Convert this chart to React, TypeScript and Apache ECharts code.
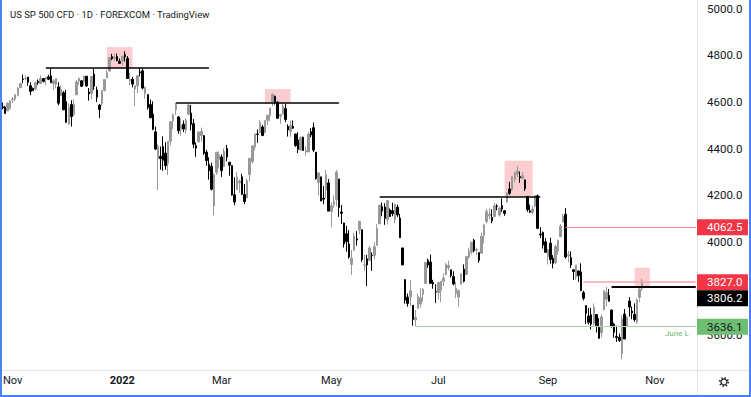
import React, { useEffect, useRef } from 'react';
import * as echarts from 'echarts';

// [day, open, high, low, close]
const oct2021 = [[26,4579,4598,4569,4575],[27,4578,4584,4551,4551],[28,4562,4597,4562,4596],[29,4572,4608,4567,4605]];
const nov2021 = [[1,4610,4621,4595,4613],[2,4613,4635,4604,4631],[3,4630,4664,4624,4660],[4,4662,4683,4659,4680],[5,4699,4718,4681,4697],[8,4701,4714,4694,4701],[9,4707,4708,4670,4685],[10,4670,4685,4630,4646],[11,4659,4662,4648,4649],[12,4656,4688,4650,4683],[15,4689,4697,4674,4683],[16,4679,4714,4679,4701],[17,4701,4701,4684,4689],[18,4700,4708,4672,4705],[19,4708,4717,4694,4698],[22,4712,4744,4682,4683],[23,4679,4699,4652,4691],[24,4675,4702,4659,4701],[26,4665,4685,4586,4595],[29,4628,4672,4626,4655],[30,4640,4647,4565,4567]];
const dec2021 = [[1,4602,4652,4510,4513],[2,4504,4595,4504,4577],[3,4589,4608,4495,4538],[6,4548,4612,4540,4591],[7,4631,4694,4631,4686],[8,4690,4705,4675,4701],[9,4691,4695,4665,4668],[10,4688,4713,4670,4712],[13,4711,4711,4666,4669],[14,4643,4660,4606,4635],[15,4637,4712,4612,4710],[16,4720,4743,4652,4668],[17,4652,4666,4600,4621],[20,4587,4592,4531,4568],[21,4594,4651,4584,4649],[22,4650,4697,4645,4697],[23,4703,4740,4703,4726],[27,4733,4791,4733,4791],[28,4795,4807,4780,4786],[29,4788,4805,4778,4793],[30,4795,4808,4775,4778],[31,4775,4787,4765,4766]];
const jan2022 = [[3,4778,4797,4758,4797],[4,4804,4818,4774,4794],[5,4787,4797,4700,4701],[6,4693,4725,4671,4696],[7,4698,4708,4663,4677],[10,4656,4673,4582,4670],[11,4670,4715,4638,4713],[12,4729,4749,4710,4726],[13,4734,4745,4654,4660],[14,4637,4666,4614,4663],[18,4632,4632,4568,4577],[19,4589,4611,4530,4533],[20,4548,4603,4479,4483],[21,4472,4495,4395,4398],[24,4357,4418,4222,4410],[25,4367,4409,4310,4357],[26,4409,4453,4305,4350],[27,4381,4428,4309,4327],[28,4337,4432,4287,4432],[31,4432,4517,4414,4516]];
const feb2022 = [[1,4519,4551,4484,4546],[2,4567,4595,4544,4589],[3,4536,4540,4464,4477],[4,4483,4531,4456,4501],[7,4505,4521,4471,4484],[8,4480,4531,4465,4522],[9,4548,4592,4547,4587],[10,4553,4588,4478,4504],[11,4507,4527,4402,4419],[14,4413,4427,4365,4402],[15,4429,4473,4429,4472],[16,4456,4490,4430,4475],[17,4456,4456,4373,4380],[18,4385,4395,4327,4349],[22,4332,4363,4267,4305],[23,4324,4340,4221,4226],[24,4155,4294,4114,4288],[25,4299,4385,4287,4385],[28,4354,4388,4315,4374]];
const mar2022 = [[1,4364,4375,4279,4306],[2,4323,4401,4322,4387],[3,4401,4416,4346,4364],[4,4342,4342,4284,4329],[7,4327,4328,4199,4201],[8,4202,4277,4157,4171],[9,4224,4299,4224,4278],[10,4253,4268,4210,4260],[11,4279,4292,4202,4204],[14,4203,4248,4162,4173],[15,4189,4272,4187,4262],[16,4289,4358,4259,4358],[17,4345,4412,4335,4412],[18,4407,4465,4392,4463],[21,4463,4482,4425,4461],[22,4469,4522,4469,4512],[23,4493,4501,4455,4456],[24,4470,4521,4465,4520],[25,4522,4546,4501,4543],[28,4542,4575,4517,4575],[29,4603,4637,4582,4632],[30,4624,4628,4589,4602],[31,4600,4603,4530,4530]];
const apr2022 = [[1,4540,4549,4507,4546],[4,4548,4593,4548,4583],[5,4572,4593,4514,4525],[6,4495,4504,4452,4481],[7,4474,4521,4450,4500],[8,4495,4521,4485,4488],[11,4463,4464,4408,4413],[12,4437,4471,4381,4397],[13,4394,4453,4392,4447],[14,4449,4452,4392,4392],[18,4386,4410,4370,4391],[19,4386,4471,4386,4463],[20,4473,4488,4449,4459],[21,4490,4512,4385,4394],[22,4385,4385,4267,4272],[25,4255,4299,4200,4296],[26,4279,4279,4175,4175],[27,4187,4240,4162,4183],[28,4223,4308,4188,4288],[29,4253,4270,4132,4132]];
const may2022 = [[2,4131,4169,4062,4155],[3,4159,4200,4147,4175],[4,4181,4308,4152,4300],[5,4270,4270,4107,4147],[6,4128,4158,4077,4123],[9,4081,4082,3976,3991],[10,4035,4069,3958,4001],[11,3991,4050,3928,3935],[12,3903,3965,3859,3930],[13,3964,4039,3964,4024],[16,4013,4046,3984,4008],[17,4052,4090,4033,4088],[18,4052,4052,3914,3923],[19,3900,3946,3876,3901],[20,3927,3944,3810,3901],[23,3920,3982,3920,3974],[24,3942,3955,3875,3941],[25,3942,3999,3925,3979],[26,3985,4076,3985,4058],[27,4077,4158,4077,4158],[31,4151,4169,4110,4132]];
const jun2022 = [[1,4149,4166,4073,4101],[2,4096,4177,4075,4177],[3,4137,4143,4107,4109],[6,4134,4168,4110,4121],[7,4096,4164,4080,4161],[8,4148,4160,4107,4116],[9,4102,4120,4017,4018],[10,3974,3974,3900,3901],[13,3838,3838,3735,3750],[14,3763,3778,3722,3735],[15,3764,3837,3722,3790],[16,3728,3728,3640,3667],[17,3665,3707,3637,3675],[21,3715,3779,3715,3765],[22,3733,3801,3717,3760],[23,3775,3802,3743,3796],[24,3821,3913,3821,3912],[27,3920,3928,3889,3901],[28,3913,3945,3820,3822],[29,3826,3837,3799,3819],[30,3786,3818,3738,3785]];
const jul2022 = [[1,3782,3829,3753,3825],[5,3793,3832,3742,3831],[6,3831,3865,3811,3845],[7,3859,3910,3859,3903],[8,3888,3919,3878,3899],[11,3880,3880,3847,3855],[12,3851,3874,3814,3819],[13,3779,3829,3758,3801],[14,3763,3796,3722,3790],[15,3819,3864,3817,3863],[18,3883,3903,3826,3831],[19,3860,3939,3860,3937],[20,3935,3975,3927,3960],[21,3956,3999,3946,3999],[22,4007,4013,3955,3962],[25,3965,3975,3943,3967],[26,3954,3954,3910,3921],[27,3951,4040,3951,4024],[28,4027,4078,3993,4072],[29,4087,4141,4079,4130]];
const aug2022 = [[1,4113,4144,4096,4119],[2,4105,4140,4080,4091],[3,4108,4167,4107,4155],[4,4154,4161,4135,4152],[5,4115,4151,4108,4145],[8,4156,4187,4128,4140],[9,4133,4137,4112,4122],[10,4171,4211,4168,4210],[11,4227,4257,4201,4208],[12,4225,4280,4219,4280],[15,4269,4301,4256,4297],[16,4291,4325,4277,4305],[17,4280,4302,4253,4275],[18,4273,4300,4267,4284],[19,4266,4266,4218,4228],[22,4195,4195,4129,4138],[23,4133,4160,4124,4128],[24,4126,4156,4120,4141],[25,4154,4200,4147,4199],[26,4198,4203,4057,4058],[29,4034,4063,4017,4030],[30,4041,4044,3971,3986],[31,4000,4016,3954,3955]];
const sep2022 = [[1,3937,3970,3903,3967],[2,3994,4018,3906,3924],[6,3930,3943,3886,3908],[7,3910,3987,3906,3980],[8,3959,4010,3945,4006],[9,4022,4076,4022,4067],[12,4084,4119,4084,4110],[13,4118,4145,3928,3935],[14,3940,3961,3912,3946],[15,3932,3959,3888,3901],[16,3880,3880,3837,3873],[19,3849,3900,3838,3900],[20,3875,3877,3828,3856],[21,3871,3908,3789,3790],[22,3782,3790,3749,3758],[23,3727,3727,3648,3693],[26,3682,3716,3645,3655],[27,3687,3717,3624,3647],[28,3651,3736,3641,3719],[29,3688,3688,3611,3640],[30,3633,3672,3584,3586]];
const oct2022 = [[3,3610,3689,3590,3678],[4,3708,3791,3708,3791],[5,3754,3807,3722,3783],[6,3770,3798,3744,3745],[7,3707,3710,3632,3640],[10,3647,3653,3589,3612],[11,3594,3640,3571,3589],[12,3590,3606,3571,3577],[13,3520,3685,3495,3670],[14,3690,3712,3583,3583],[17,3638,3679,3638,3677],[18,3746,3763,3679,3720],[19,3703,3722,3668,3695],[20,3689,3736,3657,3666],[21,3657,3757,3647,3752],[24,3762,3810,3741,3797],[25,3799,3841,3790,3827]];

const monthBlocks: [string, number[][]][] = [
  ['2021-10', oct2021], ['2021-11', nov2021], ['2021-12', dec2021], ['2022-01', jan2022],
  ['2022-02', feb2022], ['2022-03', mar2022], ['2022-04', apr2022], ['2022-05', may2022],
  ['2022-06', jun2022], ['2022-07', jul2022], ['2022-08', aug2022], ['2022-09', sep2022],
  ['2022-10', oct2022],
];

// empty future sessions on the right side of the chart
const futureDates = ['2022-10-26','2022-10-27','2022-10-28','2022-10-31','2022-11-01','2022-11-02','2022-11-03','2022-11-04','2022-11-07','2022-11-08','2022-11-09','2022-11-10','2022-11-11','2022-11-14','2022-11-15','2022-11-16','2022-11-17','2022-11-18','2022-11-21','2022-11-22','2022-11-23'];

const timeLabels: [string, string][] = [
  ['2021-11-01', 'Nov'], ['2022-01-03', '2022'], ['2022-03-01', 'Mar'], ['2022-05-02', 'May'],
  ['2022-07-01', 'Jul'], ['2022-09-01', 'Sep'], ['2022-11-01', 'Nov'],
];

// 3800.0 sits fully under the price tags in the reference
const priceTicks = [3600, 4000, 4200, 4400, 4600, 4800, 5000];

const levelLines = [
  { from: '2021-11-18', to: '2022-02-22', price: 4746 },
  { from: '2022-02-02', to: '2022-05-05', price: 4597 },
  { from: '2022-05-27', to: '2022-08-29', price: 4195 },
];

const highlightBoxes = [
  { from: '2021-12-23', to: '2022-01-07', top: 4836, bottom: 4746 },
  { from: '2022-03-24', to: '2022-04-07', top: 4656, bottom: 4597 },
  { from: '2022-08-09', to: '2022-08-24', top: 4348, bottom: 4197 },
  { from: '2022-10-20', to: '2022-10-28', top: 3889, bottom: 3807 },
];

const rayLines = [
  { from: '2022-09-13', price: 4062.5, color: '#f28b93', width: 1, label: '' },
  { from: '2022-09-22', price: 3827.0, color: '#f5a3aa', width: 1.5, label: '' },
  { from: '2022-10-07', price: 3806.2, color: '#000000', width: 2, label: '' },
  { from: '2022-06-17', price: 3636.1, color: '#a5d6a7', width: 1, label: 'June L' },
];

const priceTags = [
  { price: 4062.5, bg: '#f23645', fg: '#ffffff' },
  { price: 3827.0, bg: '#f23645', fg: '#ffffff' },
  { price: 3806.2, bg: '#000000', fg: '#ffffff' },
  { price: 3636.1, bg: '#6fbf73', fg: '#131722' },
];

const FONT = 'Roboto, "Noto Sans", sans-serif';

export default function App() {
  const ref = useRef<HTMLDivElement>(null);
  useEffect(() => {
    const chart = echarts.init(ref.current!, null, { renderer: 'svg' });
    const dates: string[] = [];
    const ohlc: number[][] = [];
    monthBlocks.forEach(([ym, rows]) => {
      rows.forEach((r) => {
        dates.push(`${ym}-${String(r[0]).padStart(2, '0')}`);
        ohlc.push([r[1], r[4], r[3], r[2]]); // open, close, low, high
      });
    });
    const categories = dates.concat(futureDates);
    const lastCat = categories[categories.length - 1];
    const labelMap = new Map(timeLabels);

    const markLineData: any[] = [];
    levelLines.forEach((l) => {
      markLineData.push([
        { coord: [l.from, l.price], lineStyle: { color: '#000', width: 1.5, type: 'solid' } },
        { coord: [l.to, l.price] },
      ]);
    });
    rayLines.forEach((l) => {
      markLineData.push([
        {
          coord: [l.from, l.price],
          lineStyle: { color: l.color, width: l.width, type: 'solid' },
          label: l.label
            ? { show: true, formatter: l.label, position: 'insideEndBottom', color: '#66bb6a', fontSize: 8, fontFamily: FONT, distance: [7, 3] }
            : { show: false },
        },
        { coord: [lastCat, l.price] },
      ]);
    });

    const option: any = {
      animation: false,
      backgroundColor: '#ffffff',
      title: {
        text: 'US SP 500 CFD · 1D · FOREXCOM · TradingView',
        left: 5,
        top: 4,
        textStyle: { fontSize: 9.5, fontWeight: 'normal', color: '#131722', fontFamily: FONT },
      },
      grid: { left: 0, right: 54, top: 0, bottom: 27 },
      xAxis: {
        type: 'category',
        data: categories,
        boundaryGap: true,
        axisLine: { show: false },
        axisTick: { show: false },
        splitLine: { show: false },
        axisLabel: {
          interval: (_i: number, v: string) => labelMap.has(v),
          formatter: (v: string) => {
            const t = labelMap.get(v) || '';
            return t === '2022' ? '{b|2022}' : t;
          },
          margin: 5,
          color: '#131722',
          fontSize: 11,
          fontFamily: FONT,
          rich: { b: { fontWeight: 'bold', fontSize: 11, color: '#131722', fontFamily: FONT } },
        },
      },
      yAxis: {
        type: 'value',
        position: 'right',
        min: 3450,
        max: 5038,
        interval: 50,
        scale: true,
        axisLine: { show: false },
        axisTick: { show: false },
        splitLine: { show: false },
        axisLabel: {
          margin: 10,
          color: '#131722',
          fontSize: 11.5,
          fontFamily: FONT,
          formatter: (v: number) => (priceTicks.includes(v) ? v.toFixed(1) : ''),
        },
      },
      series: [
        {
          type: 'candlestick',
          data: ohlc,
          barWidth: 2,
          itemStyle: {
            color: '#999999',
            color0: '#000000',
            borderColor: '#999999',
            borderColor0: '#000000',
            borderWidth: 1,
          },
          markArea: {
            silent: true,
            itemStyle: { color: 'rgba(242,54,69,0.25)' },
            data: highlightBoxes.map((b) => [
              { coord: [b.from, b.top] },
              { coord: [b.to, b.bottom] },
            ]),
          },
          markLine: {
            silent: true,
            symbol: ['none', 'none'],
            label: { show: false },
            data: markLineData,
          },
        },
      ],
    };
    chart.setOption(option);

    // price tags on the right axis, placed from the price scale
    const placed = priceTags
      .map((t) => ({ ...t, y: chart.convertToPixel({ yAxisIndex: 0 }, t.price) as number }))
      .sort((a, b) => a.y - b.y);
    for (let i = 1; i < placed.length; i++) {
      if (placed[i].y < placed[i - 1].y + 16) placed[i].y = placed[i - 1].y + 16;
    }
    const tagGraphics: any[] = [];
    placed.forEach((t) => {
      tagGraphics.push({
        type: 'rect', z: 100,
        shape: { x: 697, y: t.y - 8, width: 51, height: 16 },
        style: { fill: t.bg },
      });
      tagGraphics.push({
        type: 'text', z: 101,
        x: 707, y: t.y,
        style: { text: t.price.toFixed(1), fill: t.fg, font: `11.5px ${FONT}`, verticalAlign: 'middle', align: 'left' },
      });
    });

    const frame: any[] = [
      { type: 'line', z: 90, shape: { x1: 0, y1: 370.5, x2: 751, y2: 370.5 }, style: { stroke: '#e0e3eb', lineWidth: 1 } },
      { type: 'line', z: 90, shape: { x1: 697.5, y1: 0, x2: 697.5, y2: 397 }, style: { stroke: '#e0e3eb', lineWidth: 1 } },
      { type: 'circle', z: 90, shape: { cx: 724, cy: 382, r: 3 }, style: { fill: 'none', stroke: '#131722', lineWidth: 1.2 } },
      { type: 'circle', z: 90, shape: { cx: 724, cy: 382, r: 4.3 }, style: { fill: 'none', stroke: '#131722', lineWidth: 1.6, lineDash: [1.4, 1.98] } },
      { type: 'rect', z: 110, shape: { x: 0, y: 0, width: 2, height: 397 }, style: { fill: '#4a84f3' } },
      { type: 'rect', z: 110, shape: { x: 749, y: 0, width: 2, height: 397 }, style: { fill: '#4a84f3' } },
      { type: 'rect', z: 110, shape: { x: 0, y: 395, width: 751, height: 2 }, style: { fill: '#4a84f3' } },
    ];

    chart.setOption({ graphic: frame.concat(tagGraphics) });
    return () => chart.dispose();
  }, []);
  return <div ref={ref} style={{ position: 'absolute', left: 0, top: 0, width: 751, height: 397, background: '#fff' }} />;
}
